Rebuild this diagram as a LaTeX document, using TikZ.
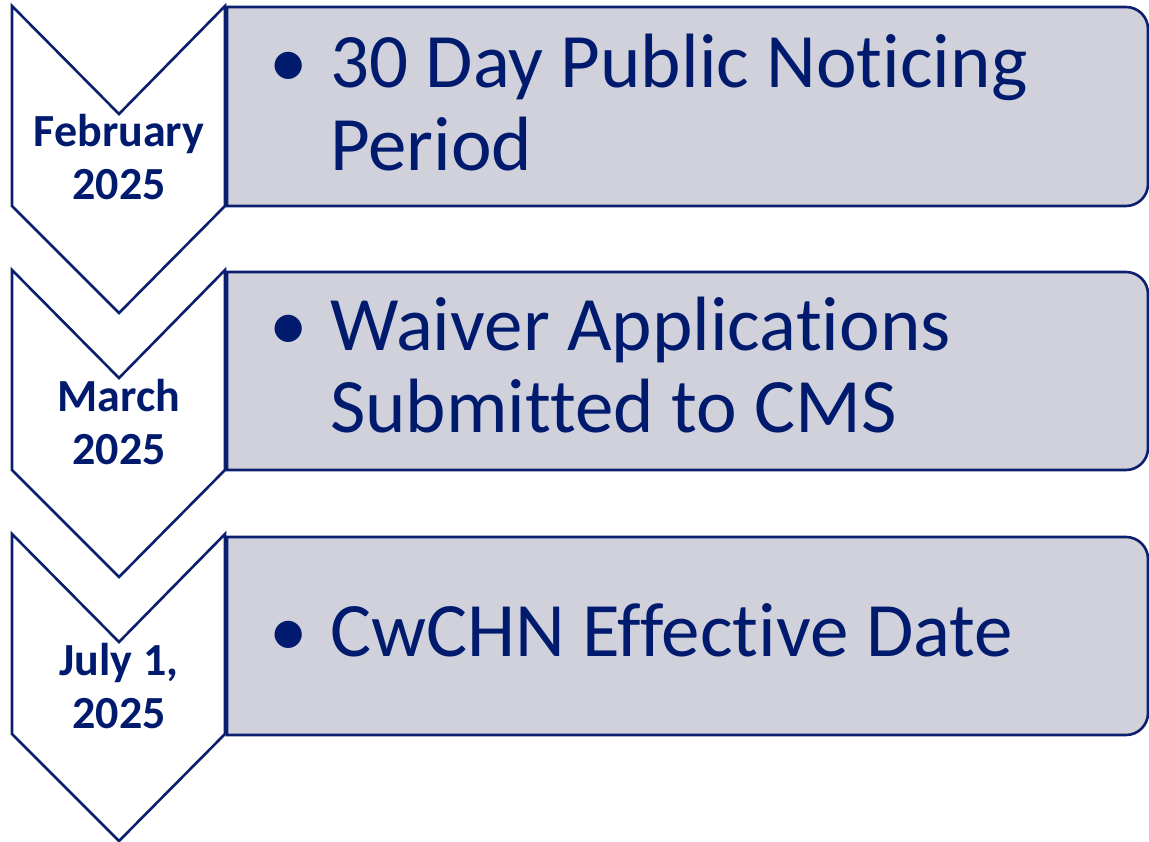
\documentclass[tikz,border=0pt]{standalone}
\usepackage{fontspec}
\setmainfont{Carlito}[Ligatures={NoCommon,NoContextual}]
\definecolor{navy}{RGB}{0,26,110}
\definecolor{edgeblue}{RGB}{12,30,110}
\definecolor{boxgray}{RGB}{208,209,219}
\tikzset{
  chev/.style={draw=edgeblue, fill=white, line width=2.6pt, line join=miter},
  panel/.style={draw=edgeblue, fill=boxgray, line width=2.6pt, line join=miter},
  datelbl/.style={anchor=base, inner sep=0pt, text=navy, font=\fontsize{46}{53}\selectfont\bfseries},
  itemtxt/.style={anchor=base west, inner sep=0pt, text=navy, font=\fontsize{77}{83}\selectfont},
  bul/.style={anchor=base, inner sep=0pt, text=navy, font=\fontsize{77}{83}\selectfont}
}
\newcommand{\chevronat}[1]{%
  \draw[chev] (12,#1) -- (119,#1+108) -- (225,#1) -- (225,#1+200) -- (119,#1+307) -- (12,#1+200) -- cycle;}
\newcommand{\panelat}[2]{%
  \draw[panel] (227,#1) -- (1126,#1) .. controls (1138.15,#1) and (1148,#1+9.85) .. (1148,#1+22)
    -- (1148,#2-22) .. controls (1148,#2-9.85) and (1138.15,#2) .. (1126,#2) -- (227,#2) -- cycle;}
\begin{document}
\begin{tikzpicture}[x=1pt,y=-1pt]
\useasboundingbox (0,0) rectangle (1149,842);
% chevrons
\chevronat{6}
\chevronat{270}
\chevronat{534}
% panels
\panelat{7}{206}
\panelat{272}{470}
\panelat{537}{735}
% date labels
\node[datelbl] (d1a) at (119,147) {February};
\node[datelbl] (d1b) at (119,200) {2025};
\node[datelbl] (d2a) at (119,411) {March};
\node[datelbl] (d2b) at (119,464) {2025};
\node[datelbl] (d3a) at (119,675) {July 1,};
\node[datelbl] (d3b) at (119,728) {2025};
% panel texts
\node[bul] (b1) at (289,88) {•};
\node[itemtxt] (t1a) at (330,88) {30 Day Public Noticing};
\node[itemtxt] (t1b) at (330,171) {Period};
\node[bul] (b2) at (289,351) {•};
\node[itemtxt] (t2a) at (330,351) {Waiver Applications};
\node[itemtxt] (t2b) at (330,432) {Submitted to CMS};
\node[bul] (b3) at (289,656) {•};
\node[itemtxt] (t3a) at (330,656) {CwCHN Effective Date};
\end{tikzpicture}
\end{document}
